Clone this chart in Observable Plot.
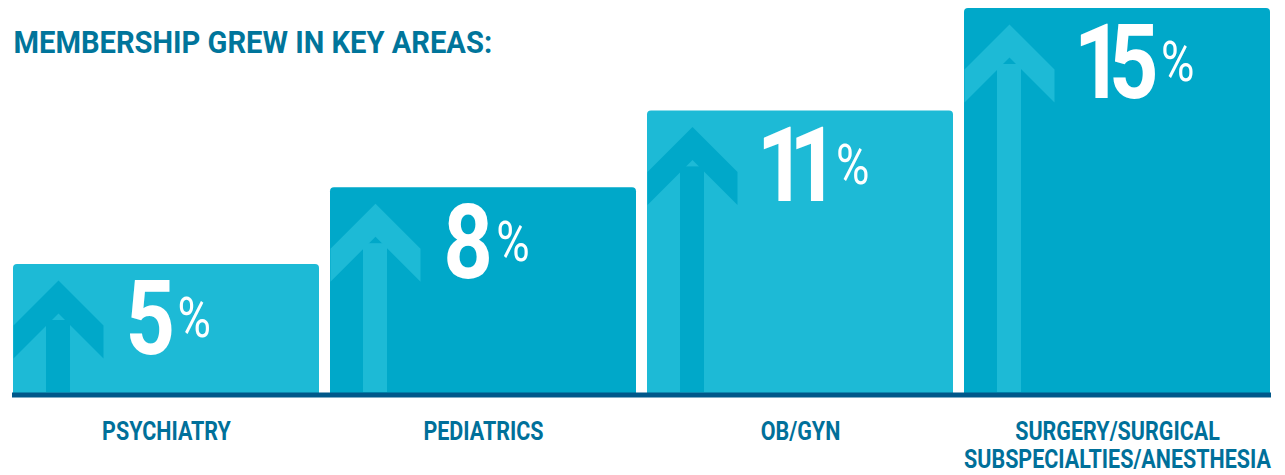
<!DOCTYPE html>
<html>
<head>
<meta charset="utf-8">
<script src="https://cdn.jsdelivr.net/npm/d3@7"></script>
<script src="https://cdn.jsdelivr.net/npm/@observablehq/plot@0.6"></script>
<style>
  html, body { margin: 0; padding: 0; background: #ffffff; }
  #chart { width: 1285px; height: 475px; }
  .pnum { font-variant-numeric: proportional-nums; font-feature-settings: "pnum" 1; letter-spacing: -11px; }
  .pct { letter-spacing: 0; }
</style>
</head>
<body>
<div id="chart"></div>
<script>
const title = "MEMBERSHIP GREW IN KEY AREAS:";
const categories = ["PSYCHIATRY", "PEDIATRICS", "OB/GYN", "SURGERY/SURGICAL\nSUBSPECIALTIES/ANESTHESIA"];
const growth = [5, 8, 11, 15];
const tones = ["light", "dark", "light", "dark"];

const palette = {light: "#1DBAD6", dark: "#00A8C9"};
const arrowTone = {light: "dark", dark: "light"};
const rows = categories.map((c, i) => ({category: c, value: growth[i], tone: tones[i]}));

// arrow-head shape (style only), tip at origin
const arrowHead = {
  draw(ctx) {
    ctx.moveTo(0, 0);
    ctx.lineTo(45, 45);
    ctx.lineTo(45, 78);
    ctx.lineTo(0, 33);
    ctx.lineTo(-45, 78);
    ctx.lineTo(-45, 45);
    ctx.closePath();
  }
};

const chart = Plot.plot({
  width: 1285,
  height: 475,
  marginLeft: 12,
  marginRight: 14,
  marginTop: 0,
  marginBottom: 83,
  style: {fontFamily: "Roboto, 'Noto Sans', sans-serif", background: "#ffffff"},
  x: {domain: categories, paddingInner: 0.036, paddingOuter: 0, axis: null},
  y: {domain: [0, 15], range: [392, 8], axis: null},
  color: {type: "identity"},
  marks: [
    Plot.barY(rows, {x: "category", y: "value", fill: d => palette[d.tone], rx: 4, insetBottom: -5}),
    Plot.barY(rows, {x: "category", y: "value", fill: d => palette[arrowTone[d.tone]], insetLeft: 33, insetRight: 249, insetTop: 56}),
    Plot.dot(rows, {x: "category", y: "value", symbol: arrowHead, fill: d => palette[arrowTone[d.tone]], stroke: "none", dx: -108, dy: 16}),
    Plot.ruleY([0], {stroke: "#00588A", strokeWidth: 5, dy: 2.5}),
    Plot.text(rows, {x: "category", y: "value", text: d => String(d.value), ariaDescription: "growth-value",
      textAnchor: "start", lineAnchor: "top", dx: -41, dy: 16, fontSize: 104, fontWeight: 700, fill: "#ffffff"}),
    Plot.text(rows, {x: "category", y: 0, text: "category", ariaDescription: "category-label",
      textAnchor: "middle", lineAnchor: "top", dy: 28, fontSize: 25, fontWeight: 700, lineHeight: 1.12, fill: "#00709A"}),
    Plot.text([title], {frameAnchor: "top-left", text: d => d, ariaDescription: "chart-title",
      textAnchor: "start", lineAnchor: "top", dx: 1, dy: 30, fontSize: 31, fontWeight: 700, fill: "#00759B"})
  ]
});

document.getElementById("chart").append(chart);

const textGroups = Array.from(chart.querySelectorAll('g[aria-label="text"]'));
const groupOrder = ["growth-value", "category-label", "chart-title"];
const pick = name => {
  let g = chart.querySelector(`g[aria-description="${name}"]`);
  if (!g) g = textGroups[groupOrder.indexOf(name)];
  return g ? Array.from(g.querySelectorAll("text")) : [];
};

// append the smaller percent sign after each number
pick("growth-value").forEach(el => {
  el.setAttribute("class", "pnum");
  const ts = document.createElementNS("http://www.w3.org/2000/svg", "tspan");
  ts.setAttribute("class", "pct");
  ts.setAttribute("font-size", 55);
  ts.setAttribute("font-weight", 400);
  ts.setAttribute("dx", 14);
  ts.setAttribute("dy", -17);
  ts.textContent = "%";
  el.append(ts);
});

// condensed look: horizontal squeeze around each text's anchor
function condense(name, k) {
  pick(name).forEach(el => {
    const t = el.getAttribute("transform") || "";
    el.setAttribute("transform", `${t} scale(${k},1)`);
  });
}
condense("growth-value", 0.83);
condense("category-label", 0.86);
condense("chart-title", 0.94);
</script>
</body>
</html>
